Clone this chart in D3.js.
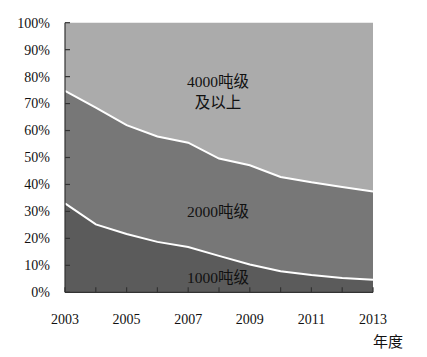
<!DOCTYPE html>
<html><head><meta charset="utf-8">
<script src="https://cdn.jsdelivr.net/npm/d3@7"></script>
<style>body{margin:0;background:#fff}svg{display:block}</style>
</head><body>
<script>
const years = [2003,2004,2005,2006,2007,2008,2009,2010,2011,2012,2013];
const s1000 = [33.0,25.2,21.6,18.7,16.8,13.5,10.3,7.8,6.4,5.3,4.7];
const s2000 = [41.7,43.3,40.4,39.1,38.7,36.1,36.8,35.0,34.4,33.8,32.7];
const s4000 = [25.3,31.5,38.0,42.2,44.5,50.4,52.9,57.2,59.2,60.9,62.6];
const seriesNames = ["1000吨级","2000吨级","4000吨级及以上"];
const yTicks = [0,10,20,30,40,50,60,70,80,90,100];
const xLabelYears = [2003,2005,2007,2009,2011,2013];

const W=427,H=357;
const svg=d3.select("body").append("svg").attr("width",W).attr("height",H);
const x=d3.scaleLinear().domain([2003,2013]).range([65,373]);
const y=d3.scaleLinear().domain([0,100]).range([292.3,22.7]);

const rows=years.map((yr,i)=>({year:yr,a:s1000[i],b:s2000[i],c:s4000[i]}));
const stack=d3.stack().keys(["a","b","c"]);
const layers=stack(rows);
const colors=["#5b5b5b","#777777","#ababab"];
const area=d3.area().x(d=>x(d.data.year)).y0(d=>y(d[0])).y1(d=>y(d[1]));
svg.selectAll("path.layer").data(layers).enter().append("path")
  .attr("class","layer").attr("d",area).attr("fill",(d,i)=>colors[i]);
const line=d3.line().x(d=>x(d.data.year)).y(d=>y(d[1]));
svg.selectAll("path.sep").data(layers.slice(0,2)).enter().append("path")
  .attr("d",line).attr("fill","none").attr("stroke","#fff").attr("stroke-width",2);

// axes
const ax=svg.append("g").attr("stroke","#333").attr("stroke-width",1.2);
ax.append("line").attr("x1",x(2003)).attr("x2",x(2003)).attr("y1",y(100)).attr("y2",y(0));
ax.append("line").attr("x1",x(2003)).attr("x2",x(2013)).attr("y1",y(0)).attr("y2",y(0));
yTicks.forEach(t=>ax.append("line").attr("x1",x(2003)).attr("x2",x(2003)+5).attr("y1",y(t)).attr("y2",y(t)));
years.forEach(t=>ax.append("line").attr("x1",x(t)).attr("x2",x(t)).attr("y1",y(0)).attr("y2",y(0)-5));

const font='"Liberation Serif","Noto Sans CJK SC",serif';
svg.selectAll("text.yl").data(yTicks).enter().append("text")
  .attr("x",50).attr("y",d=>y(d)).attr("dy","0.35em").attr("text-anchor","end")
  .attr("font-family",font).attr("font-size",14).attr("fill","#111").text(d=>d+"%");
svg.selectAll("text.xl").data(xLabelYears).enter().append("text")
  .attr("x",d=>x(d)).attr("y",319).attr("dy","0.35em").attr("text-anchor","middle")
  .attr("font-family",font).attr("font-size",14).attr("fill","#111").text(d=>d);
svg.append("text").attr("x",388).attr("y",342).attr("dy","0.35em").attr("text-anchor","middle")
  .attr("font-family",font).attr("font-size",15).attr("fill","#111").text("年度");

const lab=[{t:"4000吨级",y:82},{t:"及以上",y:103},{t:"2000吨级",y:212},{t:"1000吨级",y:278}];
svg.selectAll("text.lab").data(lab).enter().append("text")
  .attr("x",218).attr("y",d=>d.y).attr("dy","0.35em").attr("text-anchor","middle")
  .attr("font-family",font).attr("font-size",15.5).attr("fill","#111").text(d=>d.t);
</script>
</body></html>
